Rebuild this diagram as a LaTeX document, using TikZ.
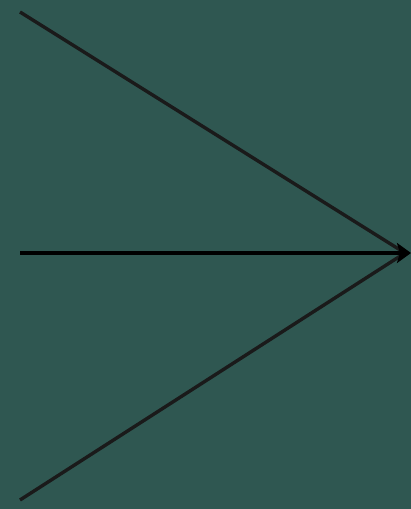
\documentclass[tikz,border=0pt]{standalone}
\usepackage{tikz}
\usetikzlibrary{arrows.meta}
\definecolor{bgTeal}{HTML}{2F5751}
\definecolor{lineDark}{HTML}{1A1A1A}
\tikzset{
  feed/.style={line width=3.4pt, lineDark},
  mainflow/.style={line width=4pt, black, -{Stealth[length=14pt, width=20pt, inset=3pt]}}
}
\begin{document}
\begin{tikzpicture}[x=1pt, y=1pt]
  \fill[bgTeal] (0,0) rectangle (411,509);
  \useasboundingbox (0,0) rectangle (411,509);
  \coordinate (top) at (20,497);
  \coordinate (mid) at (20,256);
  \coordinate (bot) at (20,9);
  \coordinate (sink) at (405,256);
  \coordinate (tip) at (411,256);
  \draw[feed] (top) -- (sink);
  \draw[feed] (bot) -- (sink);
  \draw[mainflow] (mid) -- (tip);
\end{tikzpicture}
\end{document}
